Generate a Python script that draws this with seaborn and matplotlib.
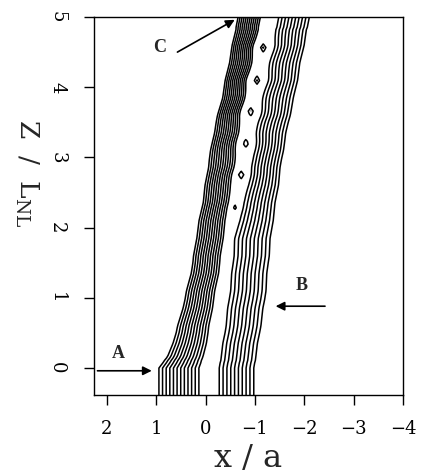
import numpy as np
import matplotlib
matplotlib.use("Agg")
import matplotlib.pyplot as plt
import seaborn as sns

# ---- data ----
# z / L_NL knots and the x / a positions of the four beam fronts (outer/inner contour lines)
z_knots = [-0.40, 0.00, 0.16, 0.50, 0.97, 1.50, 1.83, 2.39, 2.96, 3.50, 3.82, 4.40, 5.00]
left_outer = [0.98, 0.98, 0.80, 0.62, 0.44, 0.28, 0.21, 0.07, -0.05, -0.20, -0.31, -0.47, -0.64]
left_inner = [0.10, 0.10, 0.02, -0.08, -0.19, -0.31, -0.37, -0.49, -0.62, -0.72, -0.80, -0.96, -1.13]
right_inner = [-0.24, -0.24, -0.28, -0.36, -0.44, -0.52, -0.56, -0.76, -0.93, -1.03, -1.12, -1.29, -1.45]
right_outer = [-1.03, -1.03, -1.07, -1.15, -1.25, -1.32, -1.37, -1.47, -1.58, -1.72, -1.82, -1.98, -2.15]
# small lateral waviness of the fronts (x / a), read along z
wave_z = [0.10, 0.35, 0.60, 0.85, 1.10, 1.35, 1.60, 1.85, 2.10, 2.35, 2.60, 2.85,
          3.10, 3.35, 3.60, 3.85, 4.10, 4.35, 4.60, 4.85]
left_wave = [0.006, -0.010, 0.012, -0.004, 0.010, -0.012, 0.008, -0.006, 0.012, -0.010, 0.008, -0.012,
             0.010, -0.004, 0.012, -0.010, 0.008, -0.012, 0.006, -0.010]
right_wave = [-0.006, 0.012, -0.004, 0.010, -0.012, 0.006, -0.010, 0.012, -0.004, 0.010, -0.012, 0.008,
              -0.006, 0.012, -0.010, 0.004, -0.012, 0.010, -0.006, 0.012]
right_floor = 0.15
levels = np.linspace(0.04, 0.96, 12)
# small closed contours (spots) along the centre of the beam
spot_z = [2.29, 2.75, 3.20, 3.65, 4.10, 4.56]
spot_depth = [0.07, 0.13, 0.14, 0.15, 0.15, 0.15]

x_ticks = [2, 1, 0, -1, -2, -3, -4]
x_ticklabels = ["2", "1", "0", "\u22121", "\u22122", "\u22123", "\u22124"]
z_ticks = [0, 1, 2, 3, 4, 5]

# ---- build the field ----
xg = np.linspace(2.3, -4.05, 360)
zg = np.linspace(-0.4, 5.0, 150)
X, Z = np.meshgrid(xg, zg)
lw_ = np.interp(zg, wave_z, left_wave, left=0, right=0)
rw_ = np.interp(zg, wave_z, right_wave, left=0, right=0)
Lo = np.interp(zg, z_knots, left_outer) + lw_
Li = np.interp(zg, z_knots, left_inner) + lw_
Ri = np.interp(zg, z_knots, right_inner) + rw_
Ro = np.interp(zg, z_knots, right_outer) + rw_
# gap opens slightly around each spot
for zs, d in zip(spot_z, spot_depth):
    bump = 0.2 * d * np.exp(-((zg - zs) / 0.12) ** 2)
    Li += bump
    Ri -= bump
F = np.empty_like(X)
for i in range(len(zg)):
    F[i] = np.interp(xg, [Ro[i], Ri[i], Li[i], Lo[i]], [right_floor, 1.0, 1.0, 0.0])
centre = 0.5 * (Li + Ri)
for zs, d in zip(spot_z, spot_depth):
    cx = np.interp(zs, zg, centre)
    F -= d * np.clip(1 - np.abs(X - cx) / 0.08 - np.abs(Z - zs) / 0.08, 0, None)

# ---- plot ----
sns.set_theme(style="ticks")
plt.rcParams["font.family"] = ["DejaVu Serif"]
plt.rcParams["mathtext.fontset"] = "dejavuserif"

fig = plt.figure(figsize=(4.21, 4.74), dpi=100)
ax = fig.add_axes([94 / 421, 1 - 395 / 474, (403 - 94) / 421, (395 - 17) / 474])
ax.contour(X, Z, F, levels=levels, colors="black", linewidths=1.1)

ax.set_xlim(2.26, -4.0)
ax.set_ylim(-0.385, 5.0)
ax.set_xticks(x_ticks)
ax.set_xticklabels(x_ticklabels)
ax.set_yticks(z_ticks)
for lab in ax.get_yticklabels():
    lab.set_rotation(-90)
    lab.set_va("center")
ax.tick_params(axis="both", direction="out", length=7, width=1.0, colors="black",
               labelsize=13)
ax.tick_params(axis="x", pad=11)
ax.tick_params(axis="y", pad=13)
for sp in ax.spines.values():
    sp.set_color("black")
    sp.set_linewidth(1.0)
ax.set_facecolor("white")

fig.text(248 / 421, 1 - 458 / 474, "x / a", ha="center", va="center", fontsize=23)
fig.text(27 / 421, 1 - 173 / 474, "Z  /  L$_{\\mathregular{NL}}$", ha="center", va="center",
         fontsize=19, rotation=-90)

arrow = dict(arrowstyle="-|>", color="black", lw=1.2, mutation_scale=13, shrinkA=0, shrinkB=0)
bold = dict(ha="center", va="center", fontsize=13, fontweight="bold", family="Liberation Serif")
ax.annotate("", xy=(1.09, -0.04), xytext=(2.19, -0.04), arrowprops=arrow)
ax.text(1.76, 0.21, "A", **bold)
ax.annotate("", xy=(-1.42, 0.88), xytext=(-2.42, 0.88), arrowprops=arrow)
ax.text(-1.94, 1.17, "B", **bold)
ax.annotate("", xy=(-0.59, 4.96), xytext=(0.57, 4.50), arrowprops=arrow)
ax.text(0.93, 4.57, "C", **bold)

fig.savefig("out.png", dpi=100, facecolor="white")
